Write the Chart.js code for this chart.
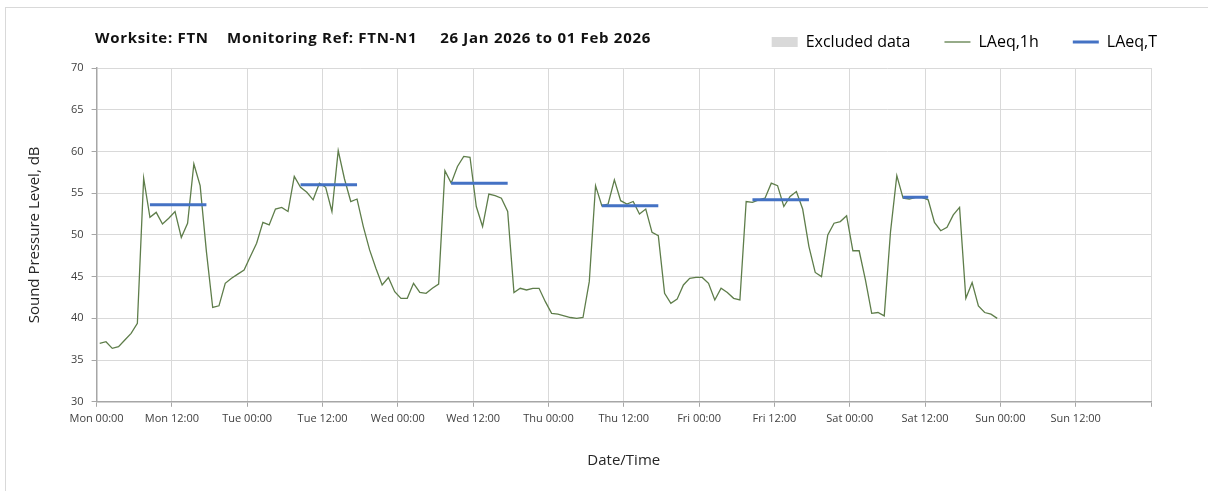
<!DOCTYPE html>
<html>
<head>
<meta charset="utf-8">
<script src="https://cdn.jsdelivr.net/npm/chart.js@4.4.1/dist/chart.umd.min.js"></script>
<style>
  body { margin: 0; background: #fff; }
  #wrap { position: relative; width: 1208px; height: 491px; }
  #frame { position: absolute; left: 5px; top: 7px; right: 0; bottom: 0; border-left: 1px solid #d9d9d9; border-top: 1px solid #d9d9d9; }
  #title { position: absolute; left: 95px; top: 27px; font: bold 15px 'Open Sans', sans-serif; letter-spacing: 0.7px; color: #111; white-space: pre; }
</style>
</head>
<body>
<div id="wrap">
  <div id="frame"></div>
  <canvas id="myChart"></canvas>
  <div id="title">Worksite: FTN    Monitoring Ref: FTN-N1     26 Jan 2026 to 01 Feb 2026</div>
</div>
<script>
// hourly LAeq,1h values, Mon 26 Jan 00:00 onwards
const laeq1h = [
  37.0, 37.2, 36.4, 36.6, 37.4, 38.2, 39.4, 56.8, 52.1, 52.7, 51.3, 52.0, 52.8, 49.7, 51.4, 58.5, 55.9, 48.0, 41.3, 41.5, 44.2, 44.8, 45.3, 45.8,
  47.4, 49.0, 51.5, 51.2, 53.1, 53.3, 52.8, 57.0, 55.7, 55.1, 54.2, 56.2, 55.7, 52.8, 60.1, 56.7, 54.0, 54.3, 51.0, 48.2, 46.0, 44.0, 44.9, 43.2,
  42.4, 42.4, 44.2, 43.1, 43.0, 43.6, 44.1, 57.7, 56.2, 58.2, 59.4, 59.3, 53.4, 51.0, 54.9, 54.7, 54.4, 52.8, 43.1, 43.6, 43.4, 43.6, 43.6, 42.0,
  40.6, 40.5, 40.3, 40.1, 40.0, 40.1, 44.4, 55.9, 53.5, 53.7, 56.6, 54.1, 53.7, 54.0, 52.5, 53.1, 50.3, 49.9, 43.0, 41.8, 42.3, 44.0, 44.8, 44.9,
  44.9, 44.2, 42.2, 43.6, 43.1, 42.4, 42.2, 54.0, 53.9, 54.2, 54.4, 56.2, 55.9, 53.4, 54.6, 55.2, 53.1, 48.6, 45.5, 45.0, 50.0, 51.4, 51.6, 52.3,
  48.1, 48.1, 44.6, 40.6, 40.7, 40.3, 50.4, 57.1, 54.4, 54.3, 54.5, 54.5, 54.2, 51.5, 50.5, 50.9, 52.4, 53.3, 42.4, 44.3, 41.5, 40.7, 40.5, 40.0
];

// LAeq,T periods (hour index of first and last hourly value) and levels
const periodStart = [8, 32, 56, 80, 104, 128];
const periodEnd = [17, 41, 65, 89, 113, 132];
const periodLevel = [53.6, 56.0, 56.2, 53.5, 54.2, 54.5];

const dayNames = ['Mon', 'Tue', 'Wed', 'Thu', 'Fri', 'Sat', 'Sun'];
const timeNames = ['00:00', '12:00'];

const hourlyPoints = laeq1h.map((v, i) => ({x: i + 0.5, y: v}));

let periodPoints = [];
for (let i = 0; i < periodLevel.length; i++) {
  periodPoints.push({x: periodStart[i] + 0.5, y: periodLevel[i]});
  periodPoints.push({x: periodEnd[i] + 0.5, y: periodLevel[i]});
  periodPoints.push({x: periodEnd[i] + 0.6, y: null});
}

const axisFont = {family: "'Open Sans', sans-serif", size: 11};
const titleFont = {family: "'Open Sans', sans-serif", size: 15};

new Chart(document.getElementById('myChart'), {
  type: 'line',
  data: {
    datasets: [
      {
        label: 'Excluded data',
        data: [],
        backgroundColor: '#d9d9d9',
        borderColor: '#d9d9d9',
        legendStyle: 'rect',
        legendLine: 0
      },
      {
        label: 'LAeq,1h',
        data: hourlyPoints,
        borderColor: '#5e7d4a',
        borderWidth: 1.3,
        pointRadius: 0,
        tension: 0,
        legendStyle: 'line',
        legendLine: 1.3
      },
      {
        label: 'LAeq,T',
        data: periodPoints,
        borderColor: '#4472c4',
        borderWidth: 3,
        pointRadius: 0,
        spanGaps: false,
        order: -1,
        legendStyle: 'line',
        legendLine: 3
      }
    ]
  },
  options: {
    responsive: true,
    maintainAspectRatio: false,
    animation: false,
    layout: {padding: {left: 18, right: 17, top: 0, bottom: 10}},
    plugins: {
      tooltip: {enabled: false},
      // empty spacer between legend and plot
      subtitle: {display: true, text: '', weight: 500, font: {size: 5}, padding: 1},
      legend: {
        position: 'top',
        align: 'end',
        labels: {
          usePointStyle: true,
          pointStyleWidth: 26,
          boxHeight: 10,
          padding: 34,
          color: '#262626',
          font: {family: "'Open Sans', sans-serif", size: 16},
          generateLabels: chart => chart.data.datasets.map((ds, i) => ({
            text: ds.label,
            fillStyle: ds.backgroundColor || ds.borderColor,
            strokeStyle: ds.borderColor,
            lineWidth: ds.legendLine,
            pointStyle: ds.legendStyle,
            hidden: false,
            datasetIndex: i
          }))
        }
      }
    },
    scales: {
      x: {
        type: 'linear',
        min: 0,
        max: 168,
        afterFit: s => { s.paddingRight = 57; },
        grid: {color: '#d9d9d9', tickColor: '#a6a6a6', tickLength: 5},
        border: {color: '#a6a6a6', width: 1.5},
        ticks: {
          stepSize: 12,
          autoSkip: false,
          maxRotation: 0,
          padding: 5,
          color: '#404040',
          font: axisFont,
          callback: v => v < 168 ? dayNames[Math.floor(v / 24)] + ' ' + timeNames[(v % 24) / 12] : ''
        },
        title: {display: true, text: 'Date/Time', color: '#262626', font: titleFont, padding: {top: 22, bottom: 11}}
      },
      y: {
        min: 30,
        max: 70,
        grid: {color: '#d9d9d9', tickColor: '#a6a6a6', tickLength: 5},
        border: {color: '#a6a6a6', width: 1.5},
        ticks: {stepSize: 5, padding: 8, color: '#404040', font: axisFont},
        title: {display: true, text: 'Sound Pressure Level, dB', color: '#262626', font: titleFont, padding: {top: 8, bottom: 19}}
      }
    }
  }
});
</script>
</body>
</html>
